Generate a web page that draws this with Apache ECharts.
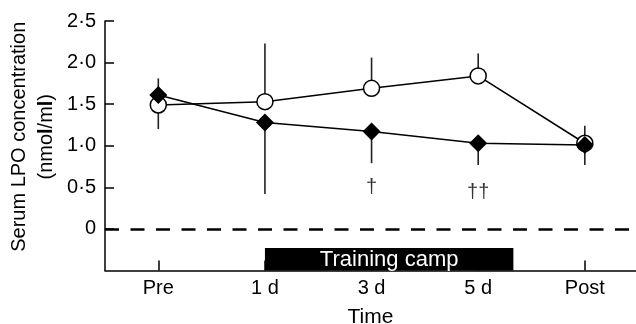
<!DOCTYPE html>
<html>
<head>
<meta charset="utf-8">
<script src="https://cdn.jsdelivr.net/npm/echarts@6/dist/echarts.min.js"></script>
<style>html,body{margin:0;padding:0;background:#fff}#c{width:636px;height:324px}</style>
</head>
<body>
<div id="c"></div>
<script>
// ---- data ----
var categories = ['Pre', '1 d', '3 d', '5 d', 'Post'];
var xPositions = [0, 1, 2, 3, 4];
var circleMean = [1.49, 1.53, 1.69, 1.84, 1.03];
var circleErrEnd = [1.20, 2.23, 2.06, 2.11, 1.24];
var diamondMean = [1.61, 1.28, 1.17, 1.03, 1.01];
var diamondErrEnd = [1.81, 0.42, 0.79, 0.77, 0.77];
var yTickValues = [0, 0.5, 1.0, 1.5, 2.0, 2.5];
var yTickLabels = ['0', '0·5', '1·0', '1·5', '2·0', '2·5'];
var campStart = 1, campEnd = 3.33, campTop = -0.23;
var campLabel = 'Training camp';
var sigMarks = [[2, 0.50, '†'], [3, 0.44, '††']];

var FONT = "'Liberation Sans', Arial, sans-serif";
var chart = echarts.init(document.getElementById('c'), null, {renderer: 'canvas'});

function pairs(xs, ys) { return xs.map(function (x, i) { return [x, ys[i]]; }); }
var errData = [];
xPositions.forEach(function (x, i) {
  errData.push([x, circleMean[i], circleErrEnd[i]]);
  errData.push([x, diamondMean[i], diamondErrEnd[i]]);
});

var Y_MIN = -0.5, Y_MAX = 2.5;

chart.setOption({
  animation: false,
  grid: {left: 105, right: 0, top: 21, bottom: 53.5, containLabel: false, outerBoundsMode: 'none'},
  xAxis: {
    type: 'value', min: -0.5, max: 4.48,
    name: 'Time', nameLocation: 'middle', nameGap: 36, nameMoveOverlap: false,
    nameTextStyle: {fontFamily: FONT, fontSize: 21, color: '#000'},
    axisLine: {onZero: false, lineStyle: {color: '#000', width: 1.5}},
    axisTick: {inside: true, length: 10, lineStyle: {color: '#000', width: 1.5}, customValues: xPositions},
    axisLabel: {customValues: xPositions, margin: 8, fontFamily: FONT, fontSize: 20, color: '#000',
      formatter: function (v) { return categories[Math.round(v)]; }},
    splitLine: {show: false}
  },
  yAxis: {
    type: 'value', min: Y_MIN, max: Y_MAX,
    name: 'Serum LPO concentration\n(nmo{b|l}/m{b|l})',
    nameLocation: 'middle', nameRotate: 90, nameGap: 45, nameMoveOverlap: false,
    nameTextStyle: {fontFamily: FONT, fontSize: 20, color: '#000', lineHeight: 27, padding: [0, 0, 0, 18],
      rich: {b: {fontFamily: FONT, fontSize: 20, fontWeight: 'bold', color: '#000', lineHeight: 27}}},
    axisLine: {show: true, onZero: false, lineStyle: {color: '#000', width: 1.5}},
    axisTick: {show: true, inside: true, length: 9, lineStyle: {color: '#000', width: 1.5}, customValues: yTickValues},
    axisLabel: {customValues: yTickValues, margin: 9, fontFamily: FONT, fontSize: 20, color: '#000',
      formatter: function (v) { var i = yTickValues.indexOf(Math.round(v * 10) / 10); return i >= 0 ? yTickLabels[i] : ''; }},
    splitLine: {show: false}
  },
  series: [
    {
      type: 'custom', z: 1, silent: true,
      data: errData,
      renderItem: function (params, api) {
        var a = api.coord([api.value(0), api.value(1)]);
        var b = api.coord([api.value(0), api.value(2)]);
        return {type: 'line', shape: {x1: a[0], y1: a[1], x2: b[0], y2: b[1]},
          style: {stroke: '#222', lineWidth: 1.6}};
      }
    },
    {
      type: 'line', z: 2, data: pairs(xPositions, circleMean),
      symbol: 'circle', symbolSize: 16,
      itemStyle: {color: '#fff', borderColor: '#000', borderWidth: 1.5},
      lineStyle: {color: '#000', width: 1.5},
      markLine: {
        silent: true, symbol: 'none', label: {show: false},
        lineStyle: {color: '#000', width: 2.5, type: [14, 11.5]},
        data: [{yAxis: 0}]
      }
    },
    {
      type: 'line', z: 3, data: pairs(xPositions, diamondMean),
      symbol: 'diamond', symbolSize: 18,
      itemStyle: {color: '#000'},
      lineStyle: {color: '#000', width: 1.5}
    },
    {
      type: 'custom', z: 5, silent: true,
      data: [[campStart, campEnd, campTop]],
      renderItem: function (params, api) {
        var p1 = api.coord([api.value(0), api.value(2)]);
        var p2 = api.coord([api.value(1), Y_MIN]);
        return {type: 'group', children: [
          {type: 'rect', shape: {x: p1[0], y: p1[1], width: p2[0] - p1[0], height: p2[1] - p1[1]},
            style: {fill: '#000'}},
          {type: 'text', style: {text: campLabel, x: (p1[0] + p2[0]) / 2, y: (p1[1] + p2[1]) / 2 + 1,
            fill: '#fff', font: '22px ' + FONT, align: 'center', verticalAlign: 'middle'}}
        ]};
      }
    },
    {
      type: 'scatter', z: 6, silent: true, symbolSize: 0,
      data: sigMarks,
      label: {show: true, position: 'inside', fontFamily: FONT, fontSize: 20, color: '#000',
        formatter: function (p) { return p.data[2]; }}
    }
  ]
});
</script>
</body>
</html>
